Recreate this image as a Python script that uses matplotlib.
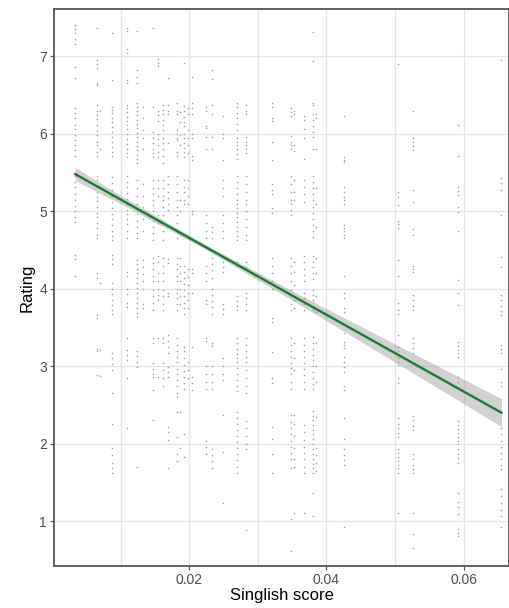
import matplotlib
matplotlib.use("Agg")
import matplotlib.pyplot as plt
from matplotlib.ticker import MultipleLocator

plt.rcParams['font.family'] = ['Liberation Sans', 'DejaVu Sans']

# Columns of points: Singlish score (x) and the ratings
col_0034 = [7.40, 7.35, 7.30, 7.22, 7.16, 6.86, 6.72, 6.33, 6.27, 6.20, 6.12, 6.06, 5.98, 5.92, 5.86,
            5.79, 5.72, 5.46, 5.38, 5.31, 5.22, 5.14, 5.07, 5.00, 4.93, 4.86, 4.43, 4.38, 4.17]
col_0066 = [7.36, 6.95, 6.90, 6.85, 6.65, 6.63, 6.37, 6.30, 6.24, 6.19, 6.11, 6.04, 5.98, 5.90, 5.85,
            5.77, 5.71, 5.45, 5.40, 5.32, 5.25, 5.18, 5.13, 5.05, 4.98, 4.92, 4.85, 4.78, 4.70, 4.66,
            4.20, 4.14, 3.66, 3.62, 3.22, 3.20, 2.88]
col_0070 = [6.30, 5.80, 4.07, 3.21, 2.87]
col_0088 = [7.30, 6.69, 6.35, 6.31, 6.27, 6.21, 6.15, 6.09, 6.02, 5.96, 5.90, 5.83, 5.77, 5.71, 5.44,
            5.36, 5.28, 5.20, 5.12, 5.04, 4.97, 4.90, 4.82, 4.75, 4.68, 4.63, 4.43, 4.38, 4.32, 4.07,
            4.00, 3.93, 3.86, 3.79, 3.72, 3.68, 3.17, 3.10, 3.03, 2.95, 2.65, 2.26, 1.95, 1.86, 1.75,
            1.68, 1.62]
col_0110 = [7.37, 7.33, 7.10, 7.04, 6.70, 6.66, 6.37, 6.33, 6.28, 6.22, 6.17, 6.11, 6.06, 6.00, 5.93,
            5.87, 5.81, 5.75, 5.70, 5.45, 5.38, 5.31, 5.24, 5.16, 5.09, 5.02, 4.97, 4.90, 4.83, 4.75,
            4.66, 4.21, 4.17, 4.00, 3.93, 3.81, 3.76, 3.36, 3.21, 3.15, 3.08, 2.85, 2.20]
col_0124 = [7.33, 6.82, 6.74, 6.65, 6.40, 6.35, 6.29, 6.24, 6.18, 6.13, 6.07, 6.01, 5.96, 5.90, 5.84,
            5.79, 5.73, 5.67, 5.62, 5.40, 5.30, 5.20, 5.10, 5.03, 4.96, 4.88, 4.80, 4.72, 4.65, 4.37,
            4.32, 4.26, 4.20, 4.14, 4.07, 4.01, 3.95, 3.88, 3.82, 3.75, 3.69, 3.63, 3.20, 3.13, 3.06,
            2.99, 1.70]
col_0133 = [6.35, 6.20, 6.05, 5.95, 5.80, 5.35, 5.20, 5.05, 4.90, 4.75, 4.37, 4.28, 4.19, 4.10, 4.00,
            3.80, 3.75]
col_0148 = [7.36, 6.34, 6.02, 5.95, 5.88, 5.81, 5.75, 5.70, 5.40, 5.30, 5.22, 5.14, 5.08, 5.01, 4.88,
            4.80, 4.72, 4.63, 4.40, 4.33, 4.25, 4.17, 4.10, 3.98, 3.90, 3.82, 3.72, 3.37, 3.30, 3.04,
            2.96, 2.90, 2.86, 2.69, 2.30]
col_0155 = [6.97, 6.92, 6.88, 6.30, 6.24, 6.17, 6.00, 5.93, 5.85, 5.77, 5.70, 5.40, 5.30, 5.20, 4.95,
            4.85, 4.42, 4.35, 4.20, 4.10, 4.00, 3.92, 3.85, 3.36, 2.86]
col_0162 = [6.37, 6.31, 6.25, 6.18, 6.11, 6.05, 5.95, 5.88, 5.80, 5.72, 5.62, 5.40, 5.30, 5.20, 5.14,
            5.05, 4.95, 4.85, 4.75, 4.63, 4.40, 4.30, 4.20, 4.10, 3.98, 3.90, 3.80, 3.72, 3.37, 3.30,
            3.04, 2.95, 2.85, 2.75]
col_0169 = [6.72, 6.37, 6.30, 6.26, 5.88, 5.45, 5.35, 5.25, 5.17, 5.10, 5.02, 4.38, 4.33, 3.95, 3.90,
            3.40, 3.32, 3.25, 3.17, 2.99, 2.92, 2.86, 2.22, 2.15, 2.05, 1.68]
col_0183 = [6.40, 6.30, 6.26, 6.05, 6.00, 5.95, 5.92, 5.76, 5.72, 5.45, 5.35, 5.25, 5.15, 5.05, 4.95,
            4.85, 4.75, 4.65, 4.40, 4.32, 4.25, 4.17, 4.10, 4.00, 3.94, 3.88, 3.80, 3.72, 3.36, 3.28,
            3.20, 3.12, 3.05, 2.97, 2.90, 2.82, 2.74, 2.66, 2.60, 2.41, 2.08, 1.87, 1.78]
col_0187 = [6.28, 6.15, 5.98, 5.85, 5.15, 5.00, 4.40, 4.30, 4.20, 4.10, 4.00, 3.90, 3.80, 2.41, 1.95]
col_0193 = [6.92, 6.36, 6.30, 6.22, 6.15, 6.10, 6.00, 5.95, 5.88, 5.82, 5.76, 5.70, 5.40, 5.32, 5.25,
            5.15, 5.10, 4.30, 4.22, 4.14, 4.06, 3.98, 3.90, 3.82, 3.75, 3.67, 3.25, 3.20, 3.10, 3.02,
            2.94, 2.86, 2.78, 2.70, 2.13, 1.83]
col_0199 = [6.33, 6.25, 6.05, 5.95, 5.85, 5.75, 5.40, 5.30, 5.20, 5.10, 4.25, 4.15, 4.05, 3.95, 3.85,
            3.75, 3.05, 2.95, 2.85]
col_0204 = [6.74, 6.40, 6.33, 6.25, 6.00, 5.95, 5.72, 5.66, 5.00, 4.97, 4.25, 4.20, 3.95, 3.25, 2.86,
            2.78, 2.69]
col_0225 = [6.35, 6.30, 6.10, 6.07, 5.96, 5.81, 4.95, 4.85, 4.75, 4.65, 4.30, 4.20, 4.10, 3.86, 3.80,
            3.36, 3.33, 3.00, 2.90, 2.80, 2.70, 2.04, 1.96, 1.87]
col_0234 = [6.83, 6.71, 6.37, 6.26, 5.96, 5.81, 4.80, 4.73, 4.66, 4.40, 4.32, 4.24, 4.14, 4.00, 3.92,
            3.84, 3.76, 3.68, 3.30, 3.26, 3.00, 2.90, 2.80, 2.70, 1.93, 1.85, 1.77, 1.69]
col_0250 = [6.23, 6.00, 5.94, 5.66, 5.40, 5.30, 5.20, 4.95, 4.85, 4.75, 4.65, 4.35, 4.28, 4.22, 3.80,
            3.74, 3.68, 3.10, 3.00, 2.90, 2.82, 2.37, 1.89, 1.24]
col_0269 = [6.40, 6.34, 6.27, 6.20, 6.13, 6.05, 5.95, 5.90, 5.85, 5.80, 5.74, 5.68, 5.45, 5.38, 5.30,
            5.22, 5.14, 5.10, 5.04, 4.98, 4.92, 4.86, 4.80, 4.74, 4.68, 4.63, 4.35, 4.30, 3.90, 3.84,
            3.78, 3.72, 3.36, 3.30, 3.22, 3.16, 3.10, 3.05, 2.98, 2.90, 2.82, 2.75, 2.68, 2.41, 2.33,
            2.26, 2.18, 2.10, 2.02, 1.95, 1.87, 1.79, 1.70, 1.62]
col_0283 = [6.37, 6.30, 6.25, 5.96, 5.90, 5.85, 5.80, 5.75, 5.45, 5.35, 5.25, 5.15, 5.10, 5.00, 4.90,
            4.80, 4.70, 4.63, 4.35, 4.28, 4.25, 3.95, 3.88, 3.80, 3.72, 3.36, 3.28, 3.20, 3.12, 3.06,
            2.95, 2.85, 2.75, 2.65, 2.29, 2.20, 2.10, 2.00, 1.93, 0.88]
col_0320 = [6.40, 6.34, 6.21, 6.17, 5.89, 5.66, 5.35, 5.28, 5.22, 5.04, 4.98, 4.40, 4.30, 4.20, 4.10,
            4.00, 3.62, 3.57, 3.18, 2.85, 2.78, 2.22, 2.06, 1.87, 1.62]
col_0348 = [6.33, 6.28, 6.23, 5.97, 5.90, 5.85, 5.80, 5.45, 5.35, 5.25, 5.15, 5.10, 5.02, 4.95, 4.40,
            4.30, 4.20, 4.10, 3.98, 3.90, 3.80, 3.72, 3.36, 3.28, 3.20, 3.12, 3.04, 2.98, 2.90, 2.80,
            2.70, 2.37, 2.28, 2.20, 2.12, 2.04, 1.96, 1.88, 1.80, 1.69, 1.03, 0.61]
col_0353 = [6.30, 6.25, 5.85, 5.78, 5.40, 5.25, 5.14, 4.35, 4.22, 4.05, 3.85, 3.75, 3.30, 3.10, 2.95,
            2.37, 2.25, 2.10, 1.95, 1.80, 1.70, 1.10]
col_0368 = [6.23, 6.18, 6.06, 5.94, 5.68, 5.40, 5.32, 5.22, 5.12, 4.42, 4.34, 4.26, 4.18, 4.10, 3.95,
            3.88, 3.80, 3.72, 3.36, 3.28, 3.20, 3.12, 3.04, 2.97, 2.88, 2.80, 2.70, 2.24, 2.15, 2.05,
            1.96, 1.88, 1.80, 1.70, 1.62, 1.10]
col_0380 = [7.31, 6.94, 6.40, 6.37, 6.25, 6.18, 6.10, 6.03, 5.96, 5.81, 5.45, 5.38, 5.30, 5.22, 5.14,
            5.06, 4.98, 4.90, 4.82, 4.75, 4.67, 4.42, 4.35, 4.28, 4.20, 4.12, 3.98, 3.92, 3.85, 3.78,
            3.72, 3.38, 3.30, 3.22, 3.15, 3.08, 3.00, 2.93, 2.85, 2.77, 2.70, 2.42, 2.36, 2.30, 2.24,
            2.18, 2.12, 2.06, 2.00, 1.93, 1.87, 1.80, 1.74, 1.68, 1.62, 1.36, 1.06]
col_0385 = [6.25, 6.20, 5.81, 5.30, 5.10, 4.80, 4.40, 4.20, 3.90, 3.70, 3.30, 3.00, 2.80, 2.35, 1.95,
            1.85, 1.75, 1.65]
col_0425 = [6.23, 5.70, 5.66, 5.63, 5.31, 5.25, 5.19, 5.14, 5.10, 4.82, 4.78, 4.74, 4.70, 4.66, 4.17,
            3.94, 3.88, 3.75, 3.70, 3.43, 3.31, 3.27, 3.23, 3.12, 3.05, 2.99, 2.92, 2.75, 2.69, 2.33,
            2.06, 1.93, 1.86, 1.79, 1.72, 0.92]
col_0504 = [6.90, 5.25, 5.18, 5.08, 4.88, 4.83, 4.79, 4.37, 4.17, 3.81, 3.72, 3.68, 3.40, 3.25, 3.20,
            3.15, 3.10, 3.06, 3.01, 2.85, 2.78, 2.33, 2.26, 2.20, 2.14, 2.08, 1.93, 1.88, 1.83, 1.78,
            1.73, 1.68, 1.62, 1.10]
col_0526 = [6.30, 5.94, 5.89, 5.84, 5.79, 5.27, 5.12, 4.77, 4.69, 4.30, 4.25, 4.21, 3.92, 3.85, 3.78,
            3.72, 3.36, 3.30, 3.24, 3.17, 2.36, 2.30, 2.23, 2.17, 1.87, 1.80, 1.73, 1.67, 1.62, 1.10,
            0.83, 0.65]
col_0591 = [6.11, 5.72, 5.31, 5.26, 5.21, 5.06, 4.99, 4.75, 4.11, 3.94, 3.79, 3.31, 3.26, 3.21, 3.17,
            3.12, 2.86, 2.79, 2.29, 2.24, 2.19, 2.14, 2.09, 2.04, 1.99, 1.93, 1.87, 1.81, 1.75, 1.36,
            1.25, 1.18, 1.09, 0.90, 0.85, 0.81]
col_0654 = [6.95, 5.43, 5.37, 5.27, 4.95, 4.41, 4.28, 3.92, 3.85, 3.78, 3.71, 3.66, 3.27, 3.22, 3.17,
            2.97, 2.79, 2.75, 2.20, 2.12, 2.04, 1.96, 1.88, 1.80, 1.72, 1.67, 1.41, 1.33, 1.24, 1.15,
            1.06, 0.92]

score_cols = [0.0034, 0.0066, 0.0070, 0.0088, 0.0110, 0.0124, 0.0133, 0.0148, 0.0155, 0.0162,
              0.0169, 0.0183, 0.0187, 0.0193, 0.0199, 0.0204, 0.0225, 0.0234, 0.0250, 0.0269,
              0.0283, 0.0320, 0.0348, 0.0353, 0.0368, 0.0380, 0.0385, 0.0425, 0.0504, 0.0526,
              0.0591, 0.0654]
rating_cols = [col_0034, col_0066, col_0070, col_0088, col_0110, col_0124, col_0133, col_0148,
               col_0155, col_0162, col_0169, col_0183, col_0187, col_0193, col_0199, col_0204,
               col_0225, col_0234, col_0250, col_0269, col_0283, col_0320, col_0348, col_0353,
               col_0368, col_0380, col_0385, col_0425, col_0504, col_0526, col_0591, col_0654]

# fitted line (lm) and its confidence band
fit_x = [0.0034, 0.0655]
fit_y = [5.48, 2.40]
band_x = [0.0034, 0.0100, 0.0225, 0.0350, 0.0450, 0.0550, 0.0655]
band_lo = [5.396, 5.098, 4.503, 3.853, 3.320, 2.784, 2.22]
band_hi = [5.564, 5.208, 4.563, 3.973, 3.514, 3.058, 2.58]

x_ticks = [0.02, 0.04, 0.06]
y_ticks = [1, 2, 3, 4, 5, 6, 7]

# flatten columns into point lists
pts_x, pts_y = [], []
for sx, ys in zip(score_cols, rating_cols):
    pts_x += [sx] * len(ys)
    pts_y += ys

fig = plt.figure(figsize=(5.09, 6.08), dpi=100)
ax = fig.add_axes([0.106, 0.069, 0.894, 0.916])

ax.scatter(pts_x, pts_y, s=1.4, c='#a3a3a3', linewidths=0, zorder=2)
ax.fill_between(band_x, band_lo, band_hi, color='#999999', alpha=0.45, linewidth=0, zorder=3)
ax.plot(fit_x, fit_y, color='#1b7a35', linewidth=1.7, zorder=4)

ax.set_xlim(0.0003, 0.0666)
ax.set_ylim(0.42, 7.61)
ax.set_xticks(x_ticks)
ax.set_xticklabels(['0.02', '0.04', '0.06'])
ax.set_yticks(y_ticks)
ax.xaxis.set_minor_locator(MultipleLocator(0.01))

ax.grid(True, which='major', color='#e6e6e6', linewidth=0.9, zorder=0)
ax.grid(True, which='minor', axis='x', color='#e6e6e6', linewidth=0.9, zorder=0)
ax.set_axisbelow(True)

ax.tick_params(axis='both', which='major', length=3, width=0.9, color='#555555',
               labelcolor='#4d4d4d', labelsize=10, pad=2)
ax.tick_params(axis='x', which='minor', length=0)

for side in ['left', 'bottom', 'top', 'right']:
    ax.spines[side].set_color('#555555')
    ax.spines[side].set_linewidth(1.3)

ax.set_xlabel('Singlish score', fontsize=12, color='black', labelpad=1)
ax.set_ylabel('Rating', fontsize=12, color='black', labelpad=3)

fig.savefig('out.png', dpi=100)
